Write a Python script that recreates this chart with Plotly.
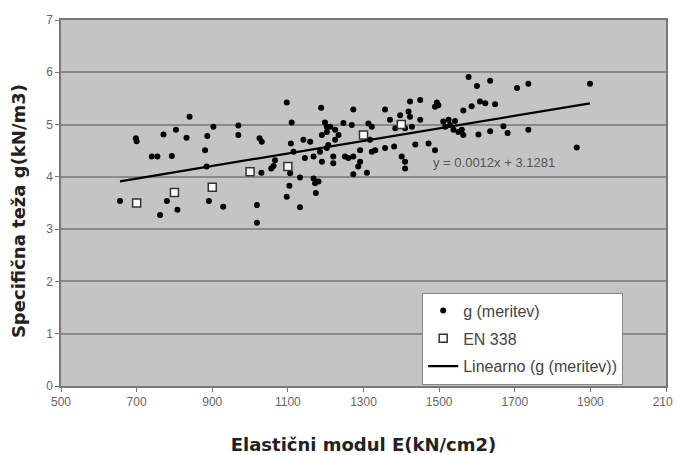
import plotly.graph_objects as go

# measured data g (meritev)
E_meas = [656, 698, 700, 740, 755, 762, 771, 780, 793, 804, 808, 832, 840, 881, 887, 885, 891, 903, 929,
          969, 969, 1018, 1018, 1025, 1031, 1030, 1056, 1062, 1066, 1097, 1110, 1108, 1115, 1097, 1104,
          1106, 1132, 1132, 1141, 1159, 1145, 1168, 1168, 1172, 1181, 1174, 1188, 1198, 1203, 1190,
          1207, 1190, 1185, 1203, 1212, 1225, 1203, 1220, 1220, 1234, 1225, 1247, 1269, 1251, 1260,
          1273, 1273, 1291, 1291, 1286, 1273, 1309, 1313, 1322, 1317, 1322, 1331, 1357, 1357, 1370,
          1384, 1381, 1397, 1419, 1423, 1410, 1428, 1401, 1410, 1410, 1423, 1450, 1450, 1437, 1472,
          1489, 1494, 1498, 1489, 1511, 1525, 1542, 1529, 1516, 1538, 1551, 1564, 1560, 1564, 1578,
          1586, 1600, 1604, 1608, 1622, 1635, 1635, 1648, 1670, 1681, 1706, 1736, 1736, 1864, 1899]
g_meas = [3.54, 4.74, 4.68, 4.39, 4.39, 3.27, 4.81, 3.54, 4.40, 4.90, 3.37, 4.75, 5.15, 4.51, 4.78, 4.20,
          3.54, 4.96, 3.43, 4.98, 4.80, 3.46, 3.12, 4.74, 4.67, 4.08, 4.16, 4.21, 4.32, 5.42, 5.04, 4.64,
          4.48, 3.62, 3.83, 4.07, 3.42, 3.99, 4.71, 4.67, 4.36, 4.39, 3.97, 3.88, 3.91, 3.69, 5.32, 5.04,
          4.96, 4.80, 4.61, 4.29, 4.48, 4.55, 4.96, 4.90, 4.86, 4.39, 4.26, 4.80, 4.71, 5.03, 4.99, 4.39,
          4.36, 4.39, 5.29, 4.51, 4.29, 4.20, 4.05, 4.08, 5.02, 4.96, 4.71, 4.48, 4.51, 5.29, 4.55, 5.09,
          4.93, 4.58, 5.18, 5.25, 5.15, 4.93, 4.96, 4.39, 4.29, 4.16, 5.44, 5.47, 5.09, 4.62, 4.64, 4.51,
          5.42, 5.37, 5.34, 5.06, 5.09, 5.07, 4.99, 4.96, 4.90, 4.86, 4.80, 4.90, 5.27, 5.91, 5.35, 5.74,
          4.81, 5.44, 5.41, 5.84, 4.87, 5.39, 4.97, 4.84, 5.70, 5.78, 4.90, 4.56, 5.78]

# EN 338 classes
E_en = [700, 800, 900, 1000, 1100, 1300, 1400]
g_en = [3.5, 3.7, 3.8, 4.1, 4.2, 4.8, 5.0]

# linear trend (from chart equation)
trend_slope = 0.0012
trend_intercept = 3.1281
trend_label = "y = 0.0012x + 3.1281"

x_ticks = [500, 700, 900, 1100, 1300, 1500, 1700, 1900, 2100]
y_ticks = [0, 1, 2, 3, 4, 5, 6, 7]

x_title = "Elastični modul E(kN/cm2)"
y_title = "Specifična teža g(kN/m3)"

x_trend = [min(E_meas), max(E_meas)]
y_trend = [trend_slope * v + trend_intercept for v in x_trend]

fig = go.Figure()
fig.add_trace(go.Scatter(x=E_meas, y=g_meas, mode="markers", name="g (meritev)",
                         legendgroup="a",
                         marker=dict(symbol="circle", size=6, color="#000000")))
fig.add_trace(go.Scatter(x=E_en, y=g_en, mode="markers", name="EN 338",
                         legendgroup="b",
                         marker=dict(symbol="square", size=8, color="#ffffff",
                                     line=dict(color="#333333", width=1.5))))
fig.add_trace(go.Scatter(x=x_trend, y=y_trend, mode="lines", name="Linearno (g (meritev))",
                         legendgroup="c",
                         line=dict(color="#000000", width=2.2)))

fig.add_annotation(x=1645, y=4.27, text=trend_label, showarrow=False,
                   font=dict(family="Liberation Sans, Arial", size=13, color="#555555"))

# y-axis title (placed as annotation to match its position along the axis)
fig.add_annotation(xref="paper", yref="paper", x=-0.071, y=0.478, text="<b>" + y_title + "</b>",
                   textangle=-90, showarrow=False, xanchor="center", yanchor="middle",
                   font=dict(family="DejaVu Sans", size=18, color="#222222"))

# page body has an 8px default margin; sizes compensate so the plot lands in place
fig.update_layout(
    width=673, height=447,
    margin=dict(l=53, r=15, t=12, b=69),
    paper_bgcolor="#ffffff", plot_bgcolor="#c4c4c4",
    font=dict(family="Liberation Sans, Arial", size=12, color="#666666"),
    showlegend=True,
    legend=dict(x=0.597, y=0.255, xanchor="left", yanchor="top",
                bgcolor="#ffffff", bordercolor="#888888", borderwidth=1,
                font=dict(size=16, color="#444444"), tracegroupgap=4),
    xaxis=dict(range=[500, 2100], tickvals=x_ticks, showgrid=False, zeroline=False,
               automargin=False,
               showline=True, linecolor="#777777", linewidth=1.5, mirror=True,
               ticks="outside", ticklen=4, tickcolor="#777777",
               title=dict(text="<b>" + x_title + "</b>",
                          font=dict(family="DejaVu Sans", size=18, color="#222222"), standoff=31)),
    yaxis=dict(range=[0, 7], tickvals=y_ticks, showgrid=True, gridcolor="#8a8a8a", gridwidth=2,
               automargin=False,
               zeroline=False, showline=True, linecolor="#777777", linewidth=1.5, mirror=True,
               ticks="outside", ticklen=4, tickcolor="#777777"),
)

fig.write_html("out.html")
